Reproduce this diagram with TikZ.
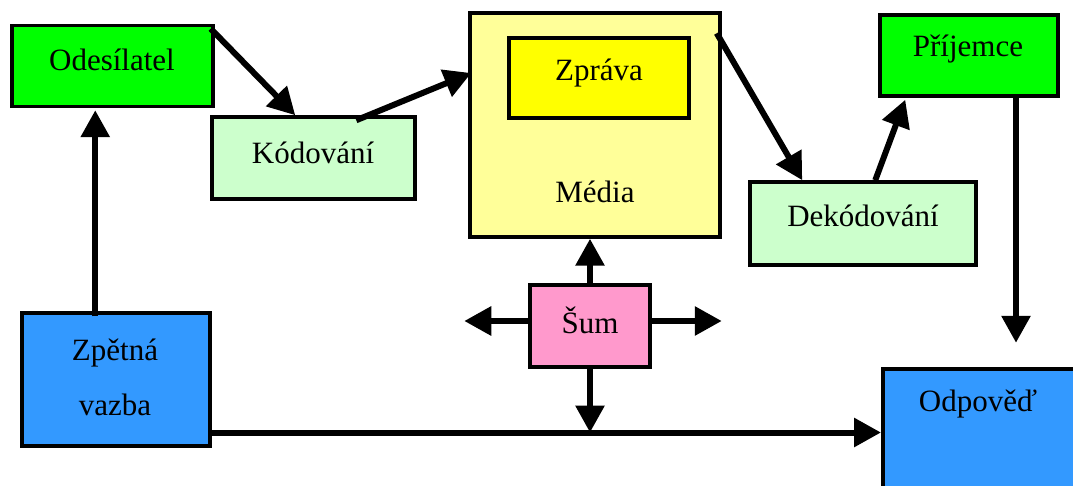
\documentclass[tikz,border=0pt]{standalone}
\usepackage{fontspec}
\setmainfont{Liberation Serif}
\usetikzlibrary{arrows.meta,calc}
\definecolor{sendgreen}{HTML}{00FF00}
\definecolor{codegreen}{HTML}{CCFFCC}
\definecolor{mediayellow}{HTML}{FFFF99}
\definecolor{msgyellow}{HTML}{FFFF00}
\definecolor{noisepink}{HTML}{FF99CC}
\definecolor{replyblue}{HTML}{3399FF}
\tikzset{
  box/.style={draw=black, line width=3.5pt, inner sep=0pt},
  lbl/.style={inner sep=0pt, font=\fontsize{31}{55}\selectfont, align=center},
  flow/.style={line width=6pt, -{Triangle[length=27pt,width=28pt]}},
}
\begin{document}
\begin{tikzpicture}[x=1pt,y=-1pt]
\clip (0,0) rectangle (1073,486);
\fill[white] (0,0) rectangle (1073,486);

% boxes
\node[box, fill=sendgreen, minimum width=201pt, minimum height=81pt] (ode) at (112.5,66) {};
\node[box, fill=codegreen, minimum width=203pt, minimum height=82pt] (kod) at (313.5,158) {};
\node[box, fill=mediayellow, minimum width=250pt, minimum height=224pt] (med) at (595,125) {};
\node[box, fill=msgyellow, minimum width=180pt, minimum height=80pt] (zpr) at (599,78) {};
\node[box, fill=sendgreen, minimum width=178pt, minimum height=81pt] (pri) at (969,55.5) {};
\node[box, fill=codegreen, minimum width=226pt, minimum height=83pt] (dek) at (863,223.5) {};
\node[box, fill=noisepink, minimum width=120pt, minimum height=82pt] (sum) at (590,326) {};
\node[box, fill=replyblue, minimum width=188pt, minimum height=133pt] (zpe) at (116,379.5) {};
\node[box, fill=replyblue, minimum width=210pt, minimum height=140pt, anchor=north west] (odp) at (881,367) {};

% labels
\node[lbl] (t-ode) at (112,60) {Odesílatel};
\node[lbl] (t-kod) at (313,153) {Kódování};
\node[lbl] (t-zpr) at (599,73) {Zpráva};
\node[lbl] (t-med) at (595,192) {Média};
\node[lbl] (t-pri) at (968,49) {Příjemce};
\node[lbl] (t-dek) at (863,216) {Dekódování};
\node[lbl] (t-sum) at (590,320) {Šum};
\node[lbl] (t-zpe) at (115,377) {Zpětná\\vazba};
\node[lbl] (t-odp) at (978,404) {Odpověď};

% helper points on the connectors
\coordinate (pri-out) at ($(pri.south)+(47,245)$);
\coordinate (fb-start) at ($(zpe.east)+(0,53)$);
\coordinate (fb-join) at (sum.south |- fb-start);
\coordinate (sum-w) at ($(sum.west)+(0,-5)$);
\coordinate (sum-e) at ($(sum.east)+(0,-5)$);

% connectors
\draw[flow] ($(ode.north east)+(-4,5)$) -- ($(kod.north west)+(85,0)$);
\draw[flow] ($(kod.north west)+(146,5)$) -- ($(med.west)+(3,-52)$);
\draw[flow] ($(med.north east)+(-5,22)$) -- ($(dek.north west)+(54,0)$);
\draw[flow] ($(dek.north west)+(127,0)$) -- ($(pri.south west)+(27,2)$);
\draw[flow] ($(pri.south)+(47,0)$) -- (pri-out);
\draw[flow] ($(zpe.north west)+(75,5)$) -- ($(ode.south west)+(85,2)$);
\draw[flow] (fb-start) -- (fb-start -| odp.west);
\draw[flow] (sum.north) -- (sum.north |- med.south);
\draw[flow] (sum-w) -- ++(-64,0);
\draw[flow] (sum-e) -- ++(70,0);
\draw[flow] (sum.south) -- (fb-join);
\end{tikzpicture}
\end{document}
